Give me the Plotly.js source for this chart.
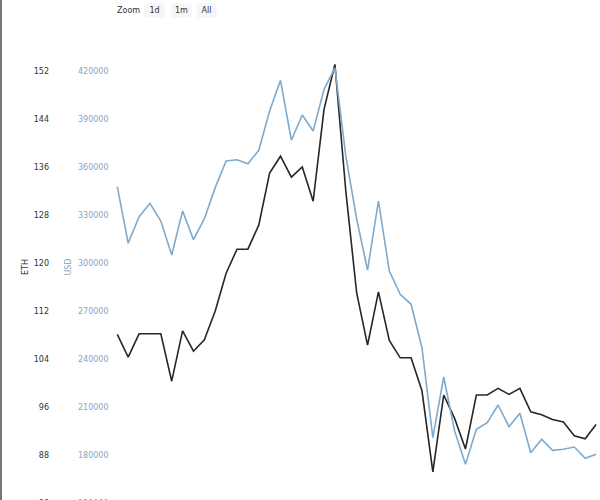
<!DOCTYPE html>
<html>
<head>
<meta charset="utf-8">
<script src="https://cdn.plot.ly/plotly-3.0.1.min.js"></script>
<style>
html,body{margin:0;padding:0;overflow:hidden;background:#fff;width:600px;height:500px}
#chart{position:absolute;left:0;top:0;width:600px;height:560px}
#frame{position:absolute;left:0;top:0;width:2px;height:500px;background:#777;z-index:10}
</style>
</head>
<body>
<div id="chart"></div>
<div id="frame"></div>
<script>
const dates = [
  '2018-01-01','2018-01-02','2018-01-03','2018-01-04','2018-01-05','2018-01-06','2018-01-07','2018-01-08',
  '2018-01-09','2018-01-10','2018-01-11','2018-01-12','2018-01-13','2018-01-14','2018-01-15','2018-01-16',
  '2018-01-17','2018-01-18','2018-01-19','2018-01-20','2018-01-21','2018-01-22','2018-01-23','2018-01-24',
  '2018-01-25','2018-01-26','2018-01-27','2018-01-28','2018-01-29','2018-01-30','2018-01-31','2018-02-01',
  '2018-02-02','2018-02-03','2018-02-04','2018-02-05','2018-02-06','2018-02-07','2018-02-08','2018-02-09',
  '2018-02-10','2018-02-11','2018-02-12','2018-02-13','2018-02-14'
];
const ethValues = [
  108.1, 104.3, 108.2, 108.2, 108.2, 100.3, 108.7, 105.3, 107.2, 112.0,
  118.3, 122.3, 122.3, 126.3, 135.0, 137.8, 134.3, 136.0, 130.3, 145.6,
  153.1, 132.0, 115.0, 106.3, 115.2, 107.1, 104.2, 104.2, 98.7, 85.2,
  98.0, 94.1, 89.0, 98.0, 98.0, 99.1, 98.1, 99.1, 95.2, 94.7,
  93.9, 93.5, 91.2, 90.7, 93.1
];
const usdValues = [
  347700, 312300, 328900, 337300, 326250, 305000, 332500, 314600, 327700, 347100,
  363750, 364560, 362060, 370440, 395000, 414190, 376690, 392500, 382500, 408560,
  421900, 366900, 327500, 295600, 338750, 295000, 280440, 274190, 247060, 190810,
  228750, 195000, 174190, 196060, 200190, 211250, 197690, 206060, 181440, 189810,
  182940, 183560, 185000, 177940, 180440
];
const buttonLabels = ['1d', '1m', 'All'];

const FONT = 'DejaVu Sans';
const ethColor = '#262626';
const usdColor = '#7eaacd';
const usdLabelColor = '#86a5bf';

const traces = [
  {x: dates, y: usdValues, yaxis: 'y2', type: 'scatter', mode: 'lines', name: 'USD',
   line: {color: usdColor, width: 1.6}},
  {x: dates, y: ethValues, yaxis: 'y', type: 'scatter', mode: 'lines', name: 'ETH',
   line: {color: ethColor, width: 1.6}}
];

const W = 600;
const btnCenters = [154.5, 181, 206.5];
const annotations = [
  {text: 'Zoom', xref: 'paper', yref: 'paper', x: 128.5 / W, y: (502 - 9.5) / 472,
   xanchor: 'center', yanchor: 'middle', showarrow: false,
   font: {family: FONT, size: 8, color: '#333'}}
];
buttonLabels.forEach((lab, i) => {
  annotations.push({
    text: lab, xref: 'paper', yref: 'paper', x: btnCenters[i] / W, y: (502 - 9.5) / 472,
    xanchor: 'center', yanchor: 'middle', showarrow: false,
    width: 19, height: 13, bgcolor: '#f6f6f6', borderpad: 0,
    font: {family: FONT, size: 8, color: '#333'}
  });
});

const layout = {
  width: 600, height: 560,
  margin: {l: 0, r: 0, t: 31, b: 57},
  paper_bgcolor: '#fff', plot_bgcolor: '#fff',
  showlegend: false,
  font: {family: FONT, size: 8, color: '#333'},
  xaxis: {
    type: 'date', domain: [112 / W, 1],
    range: ['2017-12-31 12:18', '2018-02-14 08:43'],
    showgrid: false, zeroline: false, showline: false, ticks: '',
    showticklabels: false
  },
  yaxis: {
    range: [80, 158.667], tickmode: 'linear', tick0: 0, dtick: 8,
    anchor: 'free', position: 49 / W, side: 'left',
    showgrid: false, zeroline: false, showline: false, ticks: '',
    tickfont: {family: FONT, size: 8, color: '#333'},
    title: {text: 'ETH', font: {family: FONT, size: 8, color: '#333'}, standoff: 2}
  },
  yaxis2: {
    range: [150000, 445000], tickmode: 'linear', tick0: 0, dtick: 30000, tickformat: 'd',
    anchor: 'free', position: 108.5 / W, side: 'left', overlaying: 'y',
    showgrid: false, zeroline: false, showline: false, ticks: '',
    tickfont: {family: FONT, size: 8, color: usdLabelColor},
    title: {text: 'USD', font: {family: FONT, size: 8, color: usdLabelColor}, standoff: 4}
  },
  annotations: annotations
};

Plotly.newPlot('chart', traces, layout, {displayModeBar: false, staticPlot: true});
</script>
</body>
</html>
